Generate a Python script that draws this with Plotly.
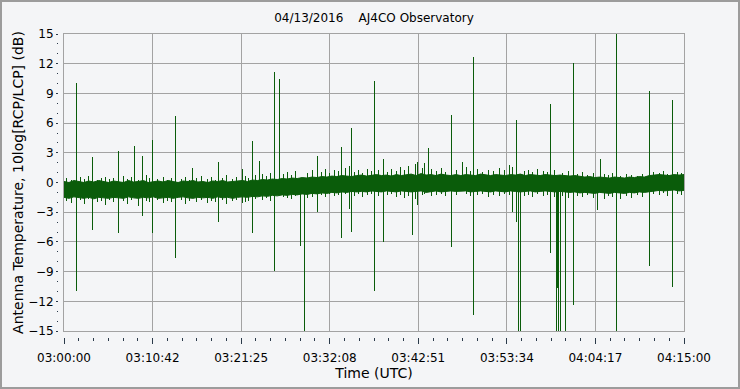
import numpy as np
import plotly.graph_objects as go

# ---------------- data ----------------
title_text = "04/13/2016\u00a0\u00a0\u00a0\u00a0AJ4CO Observatory"
x_tick_labels = ["03:00:00", "03:10:42", "03:21:25", "03:32:08",
                 "03:42:51", "03:53:34", "04:04:17", "04:15:00"]
span_seconds = 4500  # 03:00:00 -> 04:15:00

# dense core of the noise band (dB), evenly spaced over the span
core_upper = [0.1, 0.0, 0.2, 0.1, 0.0, 0.15, 0.05, 0.2, 0.1, 0.0,
              0.15, 0.1, 0.0, 0.2, 0.05, 0.1, 0.2, 0.0, 0.1, 0.15,
              0.05, 0.2, 0.1, 0.0, 0.15, 0.1, 0.2, 0.05, 0.1, 0.0,
              0.15, 0.1, 0.2, 0.05, 0.1, 0.15, 0.2, 0.1, 0.25, 0.2,
              0.3, 0.25, 0.35, 0.3, 0.4, 0.35, 0.45, 0.4, 0.5, 0.45,
              0.55, 0.5, 0.6, 0.55, 0.65, 0.6, 0.7, 0.65, 0.6, 0.7,
              0.75, 0.65, 0.7, 0.8, 0.7, 0.75, 0.65, 0.8, 0.7, 0.75,
              0.85, 0.7, 0.9, 0.75, 0.8, 0.7, 0.85, 0.75, 0.7, 0.8,
              0.7, 0.8, 0.75, 0.7, 0.85, 0.75, 0.7, 0.8, 0.75, 0.7,
              0.8, 0.75, 0.85, 0.7, 0.8, 0.75, 0.7, 0.8, 0.75, 0.7,
              0.75, 0.7, 0.65, 0.7, 0.6, 0.55, 0.6, 0.5, 0.55, 0.5,
              0.45, 0.55, 0.5, 0.45, 0.55, 0.5, 0.6, 0.55, 0.7, 0.75,
              0.8, 0.75, 0.7, 0.8, 0.75, 0.8]
core_lower = [-1.5, -1.6, -1.45, -1.55, -1.6, -1.5, -1.65, -1.5, -1.55, -1.6,
              -1.5, -1.55, -1.6, -1.45, -1.55, -1.6, -1.5, -1.55, -1.45, -1.6,
              -1.55, -1.5, -1.6, -1.5, -1.45, -1.55, -1.6, -1.5, -1.55, -1.5,
              -1.6, -1.45, -1.55, -1.5, -1.6, -1.5, -1.45, -1.5, -1.4, -1.45,
              -1.35, -1.4, -1.3, -1.35, -1.25, -1.3, -1.2, -1.25, -1.15, -1.2,
              -1.1, -1.15, -1.05, -1.1, -1.0, -1.05, -0.95, -1.0, -0.9, -0.95,
              -0.9, -0.95, -0.85, -0.9, -0.95, -0.85, -0.9, -0.95, -0.85, -0.9,
              -0.95, -0.9, -0.85, -1.0, -0.9, -0.85, -0.95, -0.9, -0.85, -0.9,
              -0.9, -0.85, -0.95, -0.9, -0.85, -0.9, -0.95, -0.85, -0.9, -0.95,
              -0.85, -0.9, -0.95, -0.9, -0.85, -0.95, -0.9, -0.85, -0.9, -0.95,
              -0.9, -0.95, -1.0, -0.95, -1.05, -1.0, -1.05, -1.1, -1.0, -1.05,
              -1.1, -1.0, -1.05, -1.1, -1.0, -1.05, -0.95, -1.0, -0.9, -0.85,
              -0.8, -0.85, -0.8, -0.75, -0.85, -0.8]

# small whiskers poking out of the noise band: time (s), top, bottom (dB)
whisker_time = [20, 55, 120, 150, 180, 240, 270, 300, 330, 360,
                430, 460, 490, 540, 600, 620, 680, 720, 750, 780,
                850, 880, 910, 960, 1000, 1040, 1070, 1100, 1150, 1180,
                1220, 1250, 1320, 1340, 1390, 1440, 1470, 1500, 1590, 1620,
                1650, 1680, 1770, 1800, 1870, 1900, 1930, 1960, 1990, 2040,
                2110, 2140, 2170, 2200, 2230, 2280, 2350, 2380, 2410, 2440,
                2470, 2500, 2550, 2600, 2620, 2670, 2700, 2740, 2770, 2850,
                2920, 2950, 3000, 3040, 3080, 3120, 3160, 3200, 3230, 3340,
                3370, 3400, 3440, 3480, 3510, 3560, 3620, 3660, 3730, 3760,
                3800, 3840, 3920, 3950, 3980, 4040, 4080, 4120, 4160, 4200,
                4280, 4320, 4350, 4380, 4450, 4480]
whisker_top = [0.5, 0.3, 0.6, 0.4, 0.7, 0.3, 0.5, 0.6, 0.4, 0.5,
               0.7, 0.4, 0.6, 0.3, 0.8, 0.5, 0.4, 0.6, 0.3, 0.5,
               0.4, 0.6, 0.3, 0.5, 0.7, 0.4, 0.6, 0.3, 0.5, 0.8,
               0.4, 0.6, 0.7, 0.5, 0.8, 0.9, 0.7, 1.0, 0.9, 1.1,
               0.8, 1.2, 1.0, 1.3, 1.1, 1.4, 1.0, 1.3, 1.2, 1.5,
               1.1, 1.3, 1.0, 1.4, 1.2, 1.3, 1.1, 1.4, 1.2, 1.6,
               1.3, 1.7, 1.9, 1.5, 2.0, 1.4, 1.2, 1.5, 1.1, 1.3,
               1.6, 1.2, 1.4, 1.1, 1.3, 1.2, 1.5, 1.3, 1.8, 1.2,
               1.3, 1.1, 1.4, 1.2, 1.1, 1.3, 1.0, 1.2, 0.9, 1.1,
               0.8, 1.0, 0.9, 0.8, 1.0, 0.7, 0.9, 0.8, 0.7, 0.9,
               1.1, 1.0, 1.2, 0.9, 1.1, 1.0]
whisker_bottom = [-1.9, -2.1, -1.8, -2.2, -1.7, -2.0, -1.9, -2.3, -1.8, -2.0,
                  -1.9, -2.2, -1.8, -2.4, -1.9, -2.0, -1.8, -2.1, -1.9, -2.0,
                  -1.8, -2.2, -1.9, -2.0, -1.8, -2.1, -1.9, -2.0, -1.8, -2.2,
                  -1.9, -1.8, -2.0, -1.9, -1.7, -1.8, -1.6, -1.9, -1.5, -1.6,
                  -1.7, -1.4, -1.6, -1.5, -1.3, -1.5, -1.2, -1.4, -1.3, -1.2,
                  -1.4, -1.2, -1.5, -1.3, -1.2, -1.4, -1.3, -1.2, -1.5, -1.3,
                  -1.6, -1.4, -1.7, -1.3, -1.2, -1.4, -1.3, -1.2, -1.4, -1.3,
                  -1.2, -1.4, -1.3, -1.2, -1.5, -1.3, -1.4, -1.2, -1.3, -1.4,
                  -1.3, -1.5, -1.2, -1.4, -1.3, -1.5, -1.4, -1.6, -1.4, -1.5,
                  -1.3, -1.6, -1.7, -1.4, -1.5, -1.7, -1.4, -1.6, -1.3, -1.5,
                  -1.2, -1.3, -1.1, -1.4, -1.2, -1.3]

# impulsive spikes: time (s after 03:00:00), top (dB), bottom (dB)
spike_time = [89, 205, 394, 510, 568, 641, 808, 934, 1118, 1294,
              1367, 1417, 1526, 1563, 1715, 1744, 1838, 2013, 2071, 2085,
              2252, 2317, 2528, 2567, 2644, 2811, 2891, 2971, 3254, 3283,
              3302, 3310, 3316, 3530, 3576, 3583, 3588, 3605, 3638, 3696,
              3869, 3892, 4009, 4248, 4415]
spike_top = [10.1, 2.6, 3.2, 3.7, 2.7, 4.3, 6.7, 1.5, 2.1, 1.4,
             4.2, 2.2, 11.2, 10.5, 0.0, 0.0, 2.7, 3.6, 1.65, 5.5,
             10.3, 2.4, 0.0, 2.1, 3.5, 6.8, 2.1, 12.7, 1.6, 6.3,
             0.0, 0.0, 0.0, 7.95, 0.0, 0.0, 0.0, 0.0, 0.0, 12.1,
             0.0, 2.4, 15.0, 9.2, 8.3]
spike_bottom = [-11.0, -4.8, -5.05, -0.5, -3.4, -5.15, -7.6, -0.5, -4.0, -2.1,
                -5.05, -0.5, -8.95, -0.5, -6.4, -15.0, -3.0, -5.6, -2.7, -5.0,
                -11.0, -6.0, -5.35, -2.25, -0.5, -6.5, -0.5, -13.4, -3.0, -4.0,
                -15.0, -12.7, -15.0, -7.1, -15.0, -10.7, -15.0, -15.0, -15.0, -12.4,
                -2.8, -0.5, -15.0, -8.45, -10.6]

# ---------------- figure ----------------
green = "#0A5C0A"
grid = "#A3A3A3"
bg = "#F4F5F7"
tickc = "#2B3A4A"
font = "DejaVu Sans"

band_t = np.linspace(0, span_seconds, len(core_upper))
band_x = list(band_t) + list(band_t[::-1])
band_y = list(core_upper) + list(core_lower[::-1])


def segments(times, tops, bottoms):
    xs, ys = [], []
    for t, top, bot in zip(times, tops, bottoms):
        xs += [t, t, None]
        ys += [bot, top, None]
    return xs, ys


wx, wy = segments(whisker_time, whisker_top, whisker_bottom)
sx, sy = segments(spike_time, spike_top, spike_bottom)

fig = go.Figure()
fig.add_trace(go.Scatter(x=band_x, y=band_y, mode="lines", fill="toself",
                         fillcolor=green, line=dict(color=green, width=1),
                         hoverinfo="skip", showlegend=False))
fig.add_trace(go.Scatter(x=wx, y=wy, mode="lines",
                         line=dict(color=green, width=1),
                         hoverinfo="skip", showlegend=False))
fig.add_trace(go.Scatter(x=sx, y=sy, mode="lines",
                         line=dict(color=green, width=1),
                         hoverinfo="skip", showlegend=False))
# carrier trace for the detached tick axes
fig.add_trace(go.Scatter(x=[0], y=[0], xaxis="x2", yaxis="y2", mode="markers",
                         marker=dict(opacity=0), hoverinfo="skip", showlegend=False))

W, H = 740, 389
pl, pr, pt, pb = 64, 684, 34, 331   # plot area in px
ml, mb, mr = 58, 52, 56             # paper edge (tick axes position)
pw = W - mr - ml
ph = (H - mb) - pt
xdom0 = (pl - ml) / pw
ydom0 = ((H - mb) - pb) / ph

tick_vals_x = [i * span_seconds / 7 for i in range(8)]

fig.update_layout(
    width=W, height=H,
    paper_bgcolor=bg, plot_bgcolor=bg,
    margin=dict(l=ml, r=mr, t=pt, b=mb, autoexpand=False),
    font=dict(family=font, size=12, color="black"),
    title=dict(text=title_text, x=(pl + pr) / 2 / W, xanchor="center",
               y=1 - 18 / H, yanchor="middle", font=dict(size=12),
               automargin=False),
    xaxis=dict(domain=[xdom0, 1], range=[0, span_seconds], automargin=False,
               showgrid=True, gridcolor=grid, gridwidth=1,
               tickmode="array", tickvals=tick_vals_x, showticklabels=False,
               ticks="", showline=True, linecolor=grid, linewidth=1, mirror=True,
               zeroline=False),
    yaxis=dict(domain=[ydom0, 1], range=[-15, 15], automargin=False,
               showgrid=True, gridcolor=grid, gridwidth=1,
               tickmode="linear", tick0=-15, dtick=3, showticklabels=False,
               ticks="", showline=True, linecolor=grid, linewidth=1, mirror=True,
               zeroline=False),
    xaxis2=dict(overlaying="x", anchor="free", position=0, side="bottom",
                range=[0, span_seconds], automargin=False,
                showgrid=False, zeroline=False, showline=False,
                tickmode="array", tickvals=tick_vals_x, ticktext=x_tick_labels,
                ticks="outside", ticklen=6, tickwidth=1, tickcolor=tickc,
                ticklabelstandoff=4,
                minor=dict(tickmode="linear", tick0=0, dtick=span_seconds / 42,
                           ticks="outside", ticklen=3, tickwidth=1,
                           tickcolor=tickc, showgrid=False),
                title=dict(text="Time (UTC)", standoff=1)),
    yaxis2=dict(overlaying="y", anchor="free", position=0, side="left",
                range=[-15, 15], automargin=False,
                showgrid=False, zeroline=False, showline=False,
                tickmode="linear", tick0=-15, dtick=3,
                ticks="outside", ticklen=2, tickwidth=1, tickcolor=tickc,
                minor=dict(tickmode="linear", tick0=-15, dtick=1,
                           ticks="outside", ticklen=1, tickwidth=1,
                           tickcolor=tickc, showgrid=False),
                title=dict(text="Antenna Temperature, 10log[RCP/LCP] (dB)",
                           standoff=0)),
    shapes=[dict(type="rect", xref="paper", yref="paper",
                 x0=(1 - ml) / pw, x1=(739 - ml) / pw,
                 y0=((H - mb) - 388) / ph, y1=((H - mb) - 1) / ph,
                 line=dict(color="#9C9C9C", width=2), fillcolor="rgba(0,0,0,0)",
                 layer="below")],
)

fig.write_html(
    "out.html",
    config={"displayModeBar": False, "staticPlot": True},
    post_script=(
        "document.body.style.margin='0';"
        "document.body.style.overflow='hidden';"
        "document.querySelectorAll('.scatterlayer .trace:nth-child(2) path.js-line,"
        ".scatterlayer .trace:nth-child(3) path.js-line')"
        ".forEach(function(p){p.style.shapeRendering='crispEdges';});"
    ),
)
